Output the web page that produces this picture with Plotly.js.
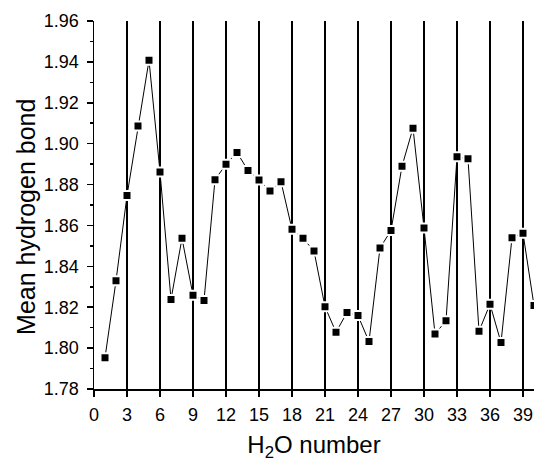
<!DOCTYPE html>
<html>
<head>
<meta charset="utf-8">
<script src="https://cdn.plot.ly/plotly-3.0.1.min.js"></script>
<style>html,body{margin:0;padding:0;background:#fff;}#chart{width:534px;height:462px;}</style>
</head>
<body>
<div id="chart"></div>
<script>
// H2O index (x) and mean hydrogen bond value (y)
const h2oNumber = [1,2,3,4,5,6,7,8,9,10,11,12,13,14,15,16,17,18,19,20,
                   21,22,23,24,25,26,27,28,29,30,31,32,33,34,35,36,37,38,39,40];
const meanHBond = [1.7953,1.8329,1.8746,1.9087,1.9408,1.8861,1.8238,1.8537,1.8259,1.8233,
                   1.8824,1.8899,1.8957,1.8869,1.8822,1.8768,1.8814,1.8581,1.8537,1.8475,
                   1.8202,1.8078,1.8174,1.8159,1.8032,1.8490,1.8575,1.8890,1.9076,1.8588,
                   1.8069,1.8134,1.8936,1.8926,1.8083,1.8215,1.8027,1.8540,1.8562,1.8208];
const xTickVals = [0,3,6,9,12,15,18,21,24,27,30,33,36,39];
const xTickText = ["0","3","6","9","12","15","18","21","24","27","30","33","36","39"];
const yTickVals = [1.78,1.80,1.82,1.84,1.86,1.88,1.90,1.92,1.94,1.96];
const yTickText = ["1.78","1.80","1.82","1.84","1.86","1.88","1.90","1.92","1.94","1.96"];
const xTitle = "H<sub>2</sub>O number";
const yTitle = "Mean hydrogen bond";

const FONT = "Liberation Sans, Arial, sans-serif";

const trace = {
  x: h2oNumber,
  y: meanHBond,
  type: "scatter",
  mode: "lines+markers",
  line: {color: "#000", width: 1},
  marker: {symbol: "square", size: 9, color: "#000", line: {color: "#fff", width: 2}},
  hoverinfo: "x+y"
};

const layout = {
  width: 534,
  height: 462,
  margin: {l: 94, r: 0, t: 21, b: 73, pad: 0},
  paper_bgcolor: "#fff",
  plot_bgcolor: "#fff",
  showlegend: false,
  font: {family: FONT, color: "#000", size: 18},
  xaxis: {
    range: [0, 40],
    tickmode: "array",
    tickvals: xTickVals,
    ticktext: xTickText,
    ticks: "outside",
    ticklen: 6,
    tickwidth: 1.5,
    tickcolor: "#000",
    ticklabelstandoff: 3,
    showline: true,
    linecolor: "#000",
    linewidth: 1.5,
    showgrid: true,
    gridcolor: "#000",
    gridwidth: 2,
    zeroline: false,
    tickfont: {family: FONT, size: 18, color: "#000"},
    title: {text: xTitle, font: {family: FONT, size: 24, color: "#000"}, standoff: 15}
  },
  yaxis: {
    range: [1.78, 1.96],
    tickmode: "array",
    tickvals: yTickVals,
    ticktext: yTickText,
    ticks: "outside",
    ticklen: 6,
    tickwidth: 1.5,
    tickcolor: "#000",
    ticklabelstandoff: 4,
    minor: {dtick: 0.01, ticks: "outside", ticklen: 3, tickwidth: 1.5, tickcolor: "#000", showgrid: false},
    showline: true,
    linecolor: "#000",
    linewidth: 1.5,
    showgrid: false,
    zeroline: false,
    tickfont: {family: FONT, size: 18, color: "#000"}
  },
  annotations: [{
    text: yTitle,
    xref: "paper", yref: "paper",
    x: -0.155, y: 0.467,
    xanchor: "center", yanchor: "middle",
    textangle: -90,
    showarrow: false,
    font: {family: FONT, size: 25, color: "#000"}
  }]
};

Plotly.newPlot("chart", [trace], layout, {displayModeBar: false, staticPlot: true});
</script>
</body>
</html>
